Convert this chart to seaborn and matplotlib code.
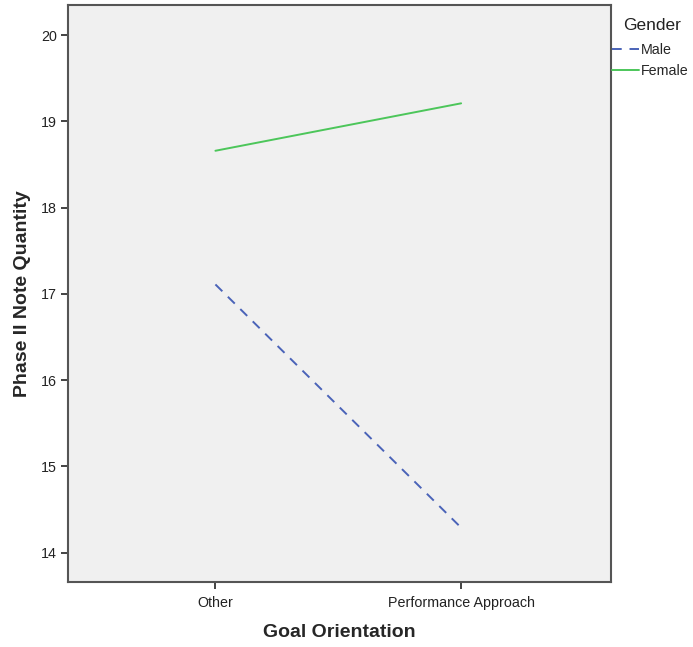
import pandas as pd
import matplotlib
matplotlib.use("Agg")
import matplotlib.pyplot as plt
import seaborn as sns

# values
goal_orientation = ["Other", "Performance Approach"]
male_quantity = [17.11, 14.29]
female_quantity = [18.66, 19.21]
y_ticks = [14, 15, 16, 17, 18, 19, 20]

df = pd.DataFrame({
    "Goal Orientation": goal_orientation * 2,
    "Phase II Note Quantity": male_quantity + female_quantity,
    "Gender": ["Male"] * 2 + ["Female"] * 2,
})

sns.set_theme(style="ticks")
plt.rcParams["font.family"] = ["Liberation Sans", "DejaVu Sans"]

fig = plt.figure(figsize=(6.93, 6.47), dpi=100)
ax = fig.add_axes([68 / 693, 1 - 582 / 647, (611 - 68) / 693, (582 - 5) / 647])
ax.set_facecolor("#f0f0f0")

sns.lineplot(
    data=df, x="Goal Orientation", y="Phase II Note Quantity",
    hue="Gender", style="Gender",
    palette={"Male": "#4a63b8", "Female": "#4cc65a"},
    dashes={"Male": (5, 4), "Female": ""},
    linewidth=1.4, ax=ax, legend=True,
)

ax.set_xlim(-0.6, 1.61)
ax.set_ylim(13.66, 20.35)
ax.set_yticks(y_ticks)
ax.tick_params(colors="#222222", labelsize=10.3, length=5, width=1.2, pad=3)
ax.tick_params(axis="x", pad=5)
for s in ax.spines.values():
    s.set_color("#555555")
    s.set_linewidth(1.5)

ax.set_xlabel("Goal Orientation", fontsize=14, fontweight="bold", labelpad=10)
ax.set_ylabel("Phase II Note Quantity", fontsize=14, fontweight="bold", labelpad=7)

handles, labels = ax.get_legend_handles_labels()
ax.get_legend().remove()
fig.text(623 / 693, 1 - 25 / 647, "Gender", fontsize=12.5, color="#222222", va="center")
fig.legend(handles, labels, loc="upper left",
           bbox_to_anchor=(612 / 693, 1 - 43 / 647), frameon=False,
           fontsize=10.3, handlelength=1.9, handletextpad=0.1,
           labelspacing=0.5, borderaxespad=0, borderpad=0)

fig.savefig("out.png", dpi=100)
